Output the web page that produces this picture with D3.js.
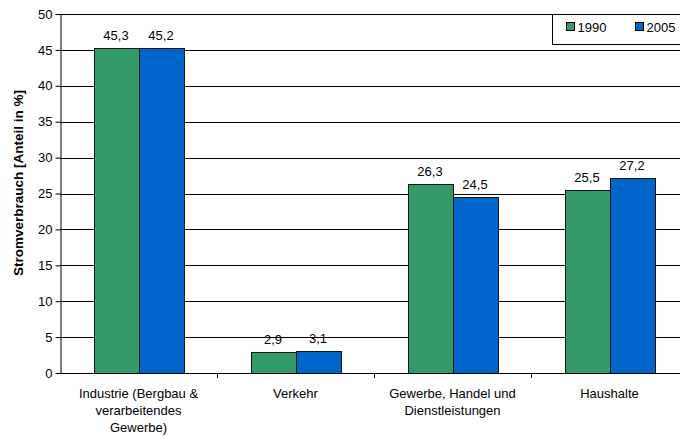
<!DOCTYPE html>
<html>
<head>
<meta charset="utf-8">
<script src="https://cdn.jsdelivr.net/npm/d3@7"></script>
<style>
  body { margin: 0; background: #fff; }
  text { font-family: "Liberation Sans", Arial, sans-serif; fill: #000; }
</style>
</head>
<body>
<script>

var categories = [["Industrie (Bergbau &", "verarbeitendes", "Gewerbe)"], ["Verkehr"], ["Gewerbe, Handel und", "Dienstleistungen"], ["Haushalte"]];
var series = ["1990", "2005"];
var values1990 = [45.3, 2.9, 26.3, 25.5];
var values2005 = [45.2, 3.1, 24.5, 27.2];
var yTicks = [0, 5, 10, 15, 20, 25, 30, 35, 40, 45, 50];
var colors = ["#339966", "#0066cc"];

var width = 680;
var height = 439;

var svg = d3.select("body")
      .append("svg")
      .attr("width", width)
      .attr("height", height)

var plotLeft = 60, plotRight = 688, plotTop = 14, plotBottom = 373;

var x = d3.scaleBand()
  .domain(d3.range(categories.length))
  .range([plotLeft, plotRight])
  .paddingInner(0)
  .paddingOuter(0);

var y = d3.scaleLinear().domain([0, 50]).range([plotBottom, plotTop]);

var bw = 45;

// gridlines
svg.append("g").selectAll("line")
  .data(yTicks.filter(function(d) { return d > 0; }))
  .enter().append("line")
  .attr("x1", plotLeft).attr("x2", plotRight)
  .attr("y1", function(d) { return Math.round(y(d)) + 0.5; })
  .attr("y2", function(d) { return Math.round(y(d)) + 0.5; })
  .attr("stroke", "#000")
  .attr("stroke-width", 1);

// bars
var data = [];
for (var i = 0; i < categories.length; i++) {
  data.push({c: i, s: 0, v: values1990[i]});
  data.push({c: i, s: 1, v: values2005[i]});
}

svg.append("g").selectAll("rect")
  .data(data)
  .enter().append("rect")
  .attr("x", function(d) { return Math.round(x(d.c) + x.bandwidth() / 2 - bw + d.s * bw) + 0.5; })
  .attr("y", function(d) { return Math.round(y(d.v)) + 0.5; })
  .attr("width", bw)
  .attr("height", function(d) { return plotBottom - Math.round(y(d.v)); })
  .attr("fill", function(d) { return colors[d.s]; })
  .attr("stroke", "#111")
  .attr("stroke-width", 1);

svg.append("g").selectAll("text")
  .data(data)
  .enter().append("text")
  .attr("x", function(d) { return x(d.c) + x.bandwidth() / 2 - bw / 2 + d.s * bw; })
  .attr("y", function(d) { return y(d.v) - 8; })
  .attr("text-anchor", "middle")
  .attr("font-size", "13px")
  .text(function(d) { return String(d.v).replace(".", ","); });

// y axis
var yAxis = d3.axisLeft(y).tickValues(yTicks).tickSize(5).tickSizeOuter(0);
var gy = svg.append("g")
  .attr("transform", "translate(" + (plotLeft + 0.5) + ",0)")
  .call(yAxis);
gy.select(".domain").attr("stroke", "#000");
gy.selectAll(".tick line").attr("stroke", "#000");
gy.selectAll(".tick text").attr("font-size", "13px").attr("x", -8)
  .attr("font-family", "Liberation Sans, Arial, sans-serif").attr("fill", "#000");

// x axis
svg.append("line")
  .attr("x1", plotLeft).attr("x2", plotRight)
  .attr("y1", plotBottom + 0.5).attr("y2", plotBottom + 0.5)
  .attr("stroke", "#000");

svg.append("g").selectAll("line")
  .data(d3.range(1, categories.length + 1))
  .enter().append("line")
  .attr("x1", function(d) { return Math.round(plotLeft + d * x.bandwidth()) + 0.5; })
  .attr("x2", function(d) { return Math.round(plotLeft + d * x.bandwidth()) + 0.5; })
  .attr("y1", plotBottom).attr("y2", plotBottom + 5)
  .attr("stroke", "#000");

var lab = svg.append("g").selectAll("text")
  .data(categories)
  .enter().append("text")
  .attr("text-anchor", "middle")
  .attr("font-size", "13px")
  .attr("x", function(d, i) { return x(i) + x.bandwidth() / 2; })
  .attr("y", 398);

lab.selectAll("tspan")
  .data(function(d) { return d; })
  .enter().append("tspan")
  .attr("x", function() { return d3.select(this.parentNode).attr("x"); })
  .attr("dy", function(d, i) { return i == 0 ? 0 : 17; })
  .text(function(d) { return d; });

// y title
svg.append("text")
  .attr("transform", "translate(23,183) rotate(-90)")
  .attr("text-anchor", "middle")
  .attr("font-size", "13.5px")
  .attr("font-weight", "bold")
  .text("Stromverbrauch [Anteil in %]");

// legend
var lg = svg.append("g").attr("transform", "translate(552.5,14.5)");
lg.append("rect")
  .attr("width", 140).attr("height", 30)
  .attr("fill", "#fff").attr("stroke", "#000");

var items = lg.selectAll("g.item")
  .data(series)
  .enter().append("g")
  .attr("transform", function(d, i) { return "translate(" + (14 + i * 69) + ",0)"; });

items.append("rect")
  .attr("y", 8).attr("width", 8).attr("height", 8)
  .attr("fill", function(d, i) { return colors[i]; })
  .attr("stroke", "#000");

items.append("text")
  .attr("x", 11).attr("y", 17)
  .attr("font-size", "13px")
  .text(function(d) { return d; });

</script>
</body>
</html>
